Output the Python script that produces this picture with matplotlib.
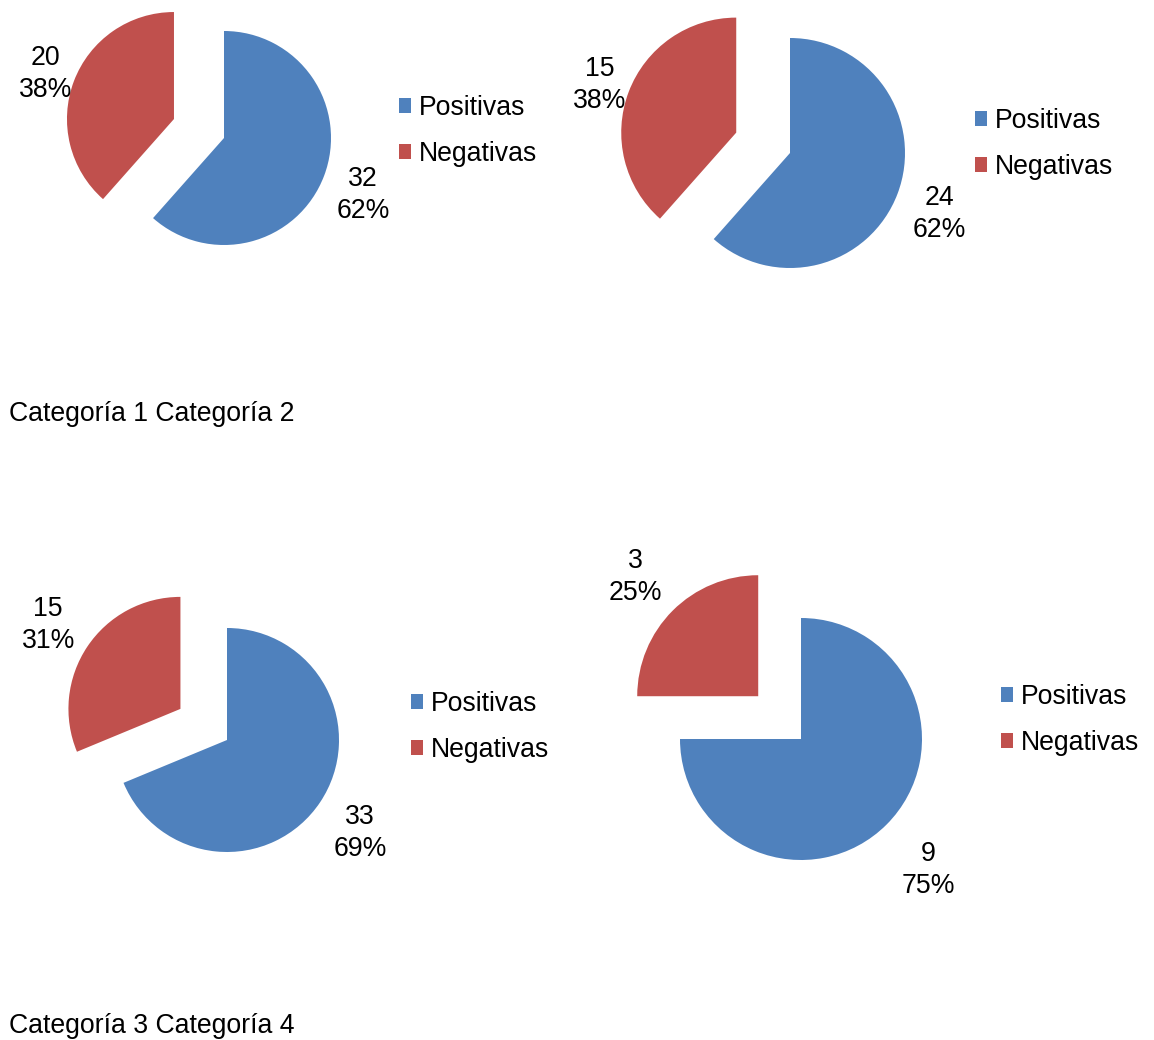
import matplotlib
matplotlib.use("Agg")
import math
import matplotlib.pyplot as plt

plt.rcParams['font.family'] = ['Liberation Sans', 'DejaVu Sans']

# Data
series = ["Positivas", "Negativas"]
colors = ["#4F81BD", "#C0504D"]
cat1 = [32, 20]
cat2 = [24, 15]
cat3 = [33, 15]
cat4 = [9, 3]
captions = ["Categoría 1 Categoría 2", "Categoría 3 Categoría 4"]

W, H = 1154, 1040
FS = 19.2

# Layout in pixel units (y measured from the top edge)
layout = [
    dict(vals=cat1, cx=224, cy=138, r=107, ld=(1.39, 1.28), leg=(399, 131)),
    dict(vals=cat2, cx=790, cy=153, r=115, ld=(1.39, 1.27), leg=(975, 144)),
    dict(vals=cat3, cx=227, cy=740, r=112, ld=(1.43, 1.42), leg=(411, 727)),
    dict(vals=cat4, cx=801, cy=739, r=121, ld=(1.49, 1.44), leg=(1001, 720)),
]
caption_pos = [(9, 414), (9, 1026)]
label_drop = 4  # baseline correction for two-line labels, px

fig = plt.figure(figsize=(W / 100, H / 100), dpi=100)
ax = fig.add_axes([0, 0, 1, 1])

legends = []
for spec in layout:
    vals = spec["vals"]
    r = spec["r"]
    total = sum(vals)
    wedges, _ = ax.pie(
        vals, colors=colors, startangle=90, counterclock=False,
        explode=[0, 0.5 * r], radius=r, center=(spec["cx"], H - spec["cy"]),
        wedgeprops=dict(linewidth=0), frame=True,
    )
    for w, v, ld in zip(wedges, vals, spec["ld"]):
        ang = math.radians(0.5 * (w.theta1 + w.theta2))
        x0, y0 = w.center
        ax.text(x0 + ld * r * math.cos(ang),
                y0 + ld * r * math.sin(ang) - label_drop,
                f"{v}\n{round(100 * v / total)}%", ha="center", va="center",
                multialignment="center", fontsize=FS, linespacing=1.3)
    lx, ly = spec["leg"]
    leg = ax.legend(
        handles=wedges, labels=series, loc="center left",
        bbox_to_anchor=(lx, H - ly), bbox_transform=ax.transData,
        frameon=False, borderpad=0, borderaxespad=0,
        handlelength=0.45, handleheight=0.45, handletextpad=0.28,
        labelspacing=0.75, fontsize=FS,
    )
    legends.append(leg)
for leg in legends[:-1]:
    ax.add_artist(leg)

for text, (tx, ty) in zip(captions, caption_pos):
    ax.text(tx, H - ty, text, ha="left", va="center", fontsize=FS)

ax.set_xlim(0, W)
ax.set_ylim(0, H)
ax.set_aspect("equal")
ax.axis("off")

fig.savefig("out.png", dpi=100)
